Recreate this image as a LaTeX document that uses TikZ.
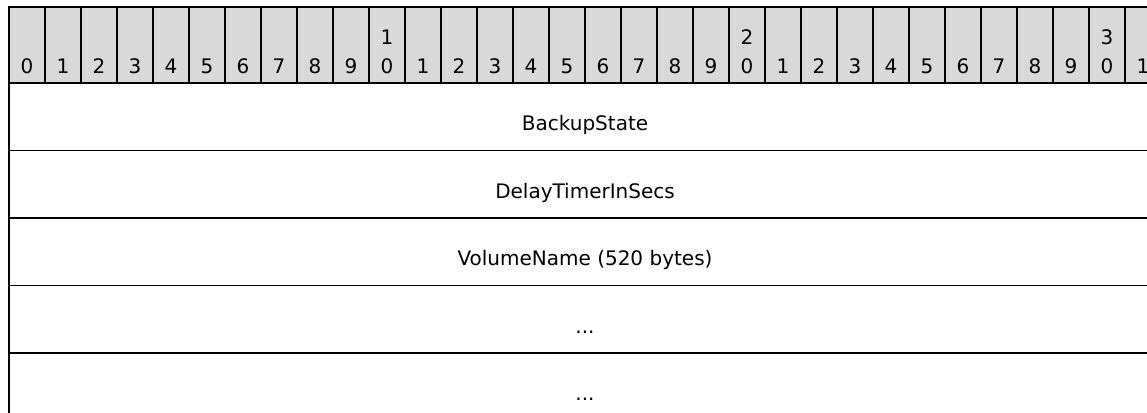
\documentclass[tikz,border=0pt]{standalone}
\usepackage{fontspec}
\setmainfont{DejaVu Sans}
\definecolor{hdrgray}{HTML}{D9D9D9}

\begin{document}
\begin{tikzpicture}[
  x=1pt, y=-1pt,
  bitcell/.style={draw,line width=1.8pt,fill=hdrgray,minimum width=36pt,minimum height=76pt,inner sep=0pt},
  bitnum/.style={anchor=base,inner sep=0pt,font=\fontsize{20}{24}\selectfont},
  fieldbox/.style={draw,line width=1.8pt,minimum width=1152pt,minimum height=67.5pt,inner sep=0pt},
  fieldtext/.style={anchor=base,inner sep=0pt,font=\fontsize{20}{24}\selectfont}
]
\useasboundingbox (0,0) rectangle (1147,412);
\clip (0,0) rectangle (1147,412);

% header row with bit numbers
\foreach \i in {0,...,31} {
  \node[bitcell] (c\i) at (27+36*\i,45) {};
  \pgfmathtruncatemacro{\d}{mod(\i,10)}
  \node[bitnum] (n\i) at (27+36*\i,74) {\d};
}
\foreach \i/\t in {10/1,20/2,30/3}
  \node[bitnum] (t\i) at (27+36*\i,45) {\t};

% fields
\node[fieldbox] (r1) at (585,116.75) {};
\node[fieldbox] (r2) at (585,184.25) {};
\node[fieldbox] (r3) at (585,251.75) {};
\node[fieldbox] (r4) at (585,319.25) {};
\node[fieldbox] (r5) at (585,386.75) {};

\node[fieldtext] (backup) at ([yshift=-14pt]r1.center) {BackupState};
\node[fieldtext] (delay) at ([yshift=-14pt]r2.center) {DelayTimerInSecs};
\node[fieldtext] (volname) at ([yshift=-14pt]r3.center) {VolumeName (520 bytes)};
\node[fieldtext] (more1) at ([yshift=-14pt]r4.center) {...};
\node[fieldtext] (more2) at ([yshift=-14pt]r5.center) {...};
\end{tikzpicture}
\end{document}
